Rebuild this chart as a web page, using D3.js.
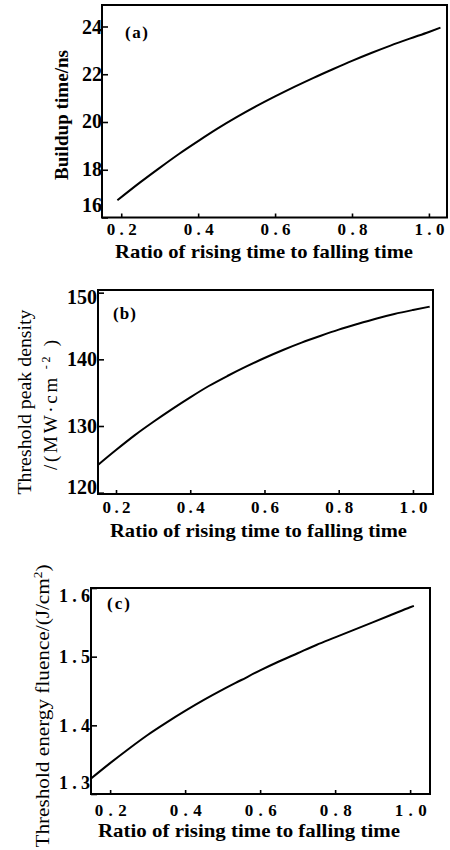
<!DOCTYPE html>
<html>
<head>
<meta charset="utf-8">
<script src="https://cdn.jsdelivr.net/npm/d3@7"></script>
<style>
  html, body { margin: 0; padding: 0; background: #fff; }
  svg { display: block; }
  text { font-family: "Liberation Serif", "DejaVu Serif", serif; fill: #000; }
</style>
</head>
<body>
<svg id="chart" width="450" height="850"></svg>
<script>
// ---------- data ----------
const xTickValues = [0.2, 0.4, 0.6, 0.8, 1.0];
const xTickLabels = ["0.2", "0.4", "0.6", "0.8", "1.0"];
const xTitle = "Ratio of rising time to falling time";

// (a) Buildup time
const ratioA = [0.19, 0.25, 0.30, 0.35, 0.40, 0.45, 0.50, 0.55, 0.60, 0.65, 0.70, 0.75, 0.80, 0.85, 0.90, 0.95, 1.00, 1.03];
const buildupTime = [16.72, 17.48, 18.08, 18.66, 19.20, 19.72, 20.20, 20.65, 21.07, 21.47, 21.85, 22.21, 22.56, 22.89, 23.20, 23.49, 23.77, 23.95];
const yTicksA = [16, 18, 20, 22, 24];
const yTickLabelsA = ["16", "18", "20", "22", "24"];

// (b) Threshold peak density
const ratioB = [0.15, 0.20, 0.25, 0.30, 0.35, 0.40, 0.45, 0.50, 0.55, 0.60, 0.65, 0.70, 0.75, 0.80, 0.85, 0.90, 0.95, 1.00, 1.045];
const peakDensity = [124.1, 126.4, 128.6, 130.6, 132.5, 134.3, 136.0, 137.5, 138.9, 140.2, 141.4, 142.5, 143.5, 144.45, 145.3, 146.1, 146.8, 147.4, 147.9];
const yTicksB = [120, 130, 140, 150];
const yTickLabelsB = ["120", "130", "140", "150"];

// (c) Threshold energy fluence
const ratioC = [0.15, 0.20, 0.25, 0.30, 0.35, 0.40, 0.45, 0.50, 0.55, 0.60, 0.65, 0.70, 0.75, 0.80, 0.85, 0.90, 0.95, 1.00, 1.01];
const energyFluence = [1.323, 1.345, 1.366, 1.386, 1.404, 1.421, 1.437, 1.452, 1.466, 1.480, 1.493, 1.505, 1.517, 1.528, 1.539, 1.550, 1.561, 1.572, 1.574];
const yTicksC = [1.3, 1.4, 1.5, 1.6];
const yTickLabelsC = ["1.3", "1.4", "1.5", "1.6"];

// ---------- drawing ----------
const svg = d3.select("#chart");

function panel(cfg) {
  const g = svg.append("g");
  const x = d3.scaleLinear().domain(cfg.xDomain).range([cfg.left, cfg.right]);
  const y = d3.scaleLinear().domain(cfg.yDomain).range([cfg.bottom, cfg.top]);

  // frame
  g.append("rect")
    .attr("x", cfg.left).attr("y", cfg.top)
    .attr("width", cfg.right - cfg.left).attr("height", cfg.bottom - cfg.top)
    .attr("fill", "none").attr("stroke", "#000").attr("stroke-width", 2);

  // x axis (ticks inward)
  const xa = g.append("g").attr("transform", `translate(0,${cfg.bottom})`)
    .call(d3.axisBottom(x).tickValues(xTickValues)
      .tickFormat((d, i) => xTickLabels[i])
      .tickSizeInner(-4).tickSizeOuter(0).tickPadding(cfg.xPad));
  xa.select(".domain").remove();
  xa.selectAll(".tick line").attr("stroke", "#000").attr("stroke-width", 1.6);
  xa.selectAll(".tick text")
    .attr("font-size", 17).attr("font-weight", "bold")
    .attr("textLength", cfg.xLabelLen).attr("lengthAdjust", "spacing")
    .attr("fill", "#000");

  // y axis (ticks inward)
  const ya = g.append("g").attr("transform", `translate(${cfg.left},0)`)
    .call(d3.axisLeft(y).tickValues(cfg.yTicks)
      .tickFormat((d, i) => cfg.yLabels[i])
      .tickSizeInner(-6).tickSizeOuter(0).tickPadding(cfg.yPad));
  ya.select(".domain").remove();
  ya.selectAll(".tick line").attr("stroke", "#000").attr("stroke-width", 1.6);
  const yt = ya.selectAll(".tick text")
    .attr("font-size", cfg.yFont).attr("font-weight", "bold")
    .attr("fill", "#000")
    .attr("dy", (d, i) => (cfg.yShift[i] || 0) + 6);
  if (cfg.yLabelLen) yt.attr("textLength", cfg.yLabelLen).attr("lengthAdjust", "spacing");

  // curve
  const line = d3.line().x(d => x(d[0])).y(d => y(d[1])).curve(d3.curveMonotoneX);
  g.append("path")
    .datum(d3.zip(cfg.xs, cfg.ys))
    .attr("d", line)
    .attr("fill", "none").attr("stroke", "#000").attr("stroke-width", 2);

  // panel tag
  g.append("text").attr("x", cfg.tag[1]).attr("y", cfg.tag[2])
    .attr("font-size", 17).attr("font-weight", "bold")
    .attr("textLength", 23).attr("lengthAdjust", "spacing")
    .text(cfg.tag[0]);

  // x title
  g.append("text")
    .attr("x", cfg.xTitle[0]).attr("y", cfg.xTitle[1])
    .attr("text-anchor", "middle")
    .attr("font-size", 19).attr("font-weight", "bold")
    .attr("textLength", cfg.xTitle[2]).attr("lengthAdjust", "spacingAndGlyphs")
    .text(xTitle);

  return g;
}

// (a)
const gA = panel({
  left: 102, right: 447, top: 5, bottom: 217.5,
  xDomain: [0.15, 1.047], yDomain: [16, 24.9],
  xs: ratioA, ys: buildupTime,
  yTicks: yTicksA, yLabels: yTickLabelsA, yShift: [-12, 0, 0, 0, 1],
  xPad: 5.5, yPad: 0, xLabelLen: 30, yFont: 20,
  tag: ["(a)", 125, 38],
  xTitle: [264, 258, 298]
});
gA.append("text")
  .attr("transform", "translate(68,115) rotate(-90)")
  .attr("text-anchor", "middle")
  .attr("font-size", 19).attr("font-weight", "bold")
  .attr("textLength", 130).attr("lengthAdjust", "spacingAndGlyphs")
  .text("Buildup time/ns");

// (b)
const gB = panel({
  left: 98, right: 433, top: 290, bottom: 494,
  xDomain: [0.1515, 1.054], yDomain: [119.8, 150.4],
  xs: ratioB, ys: peakDensity,
  yTicks: yTicksB, yLabels: yTickLabelsB, yShift: [-5, 0, 0, 5],
  xPad: 7, yPad: 1, xLabelLen: 28, yFont: 20,
  tag: ["(b)", 113, 319],
  xTitle: [258.5, 537, 297]
});
gB.append("text")
  .attr("transform", "translate(31,402) rotate(-90)")
  .attr("text-anchor", "middle")
  .attr("font-size", 19)
  .attr("textLength", 185).attr("lengthAdjust", "spacingAndGlyphs")
  .text("Threshold peak density");
const t2 = gB.append("text")
  .attr("transform", "translate(57,405) rotate(-90)")
  .attr("text-anchor", "middle")
  .attr("font-size", 19)
  .attr("textLength", 130).attr("lengthAdjust", "spacing");
t2.append("tspan").text("/(MW·cm");
t2.append("tspan").attr("dy", -7).attr("font-size", 12).text(" -2");
t2.append("tspan").attr("dy", 7).text(" )");

// (c)
const gC = panel({
  left: 91, right: 430, top: 588, bottom: 794,
  xDomain: [0.149, 1.053], yDomain: [1.3, 1.6],
  xs: ratioC, ys: energyFluence,
  yTicks: yTicksC, yLabels: yTickLabelsC, yShift: [-12, 0, 0, 7],
  xPad: 10, yPad: 1, xLabelLen: 32, yFont: 18, yLabelLen: 31,
  tag: ["(c)", 107, 609],
  xTitle: [249, 837, 302]
});
const t3 = gC.append("text")
  .attr("transform", "translate(49,706) rotate(-90)")
  .attr("text-anchor", "middle")
  .attr("font-size", 19)
  .attr("textLength", 283).attr("lengthAdjust", "spacingAndGlyphs");
t3.append("tspan").text("Threshold energy fluence/(J/cm");
t3.append("tspan").attr("dy", -7).attr("font-size", 12).text("2");
t3.append("tspan").attr("dy", 7).text(")");
</script>
</body>
</html>
